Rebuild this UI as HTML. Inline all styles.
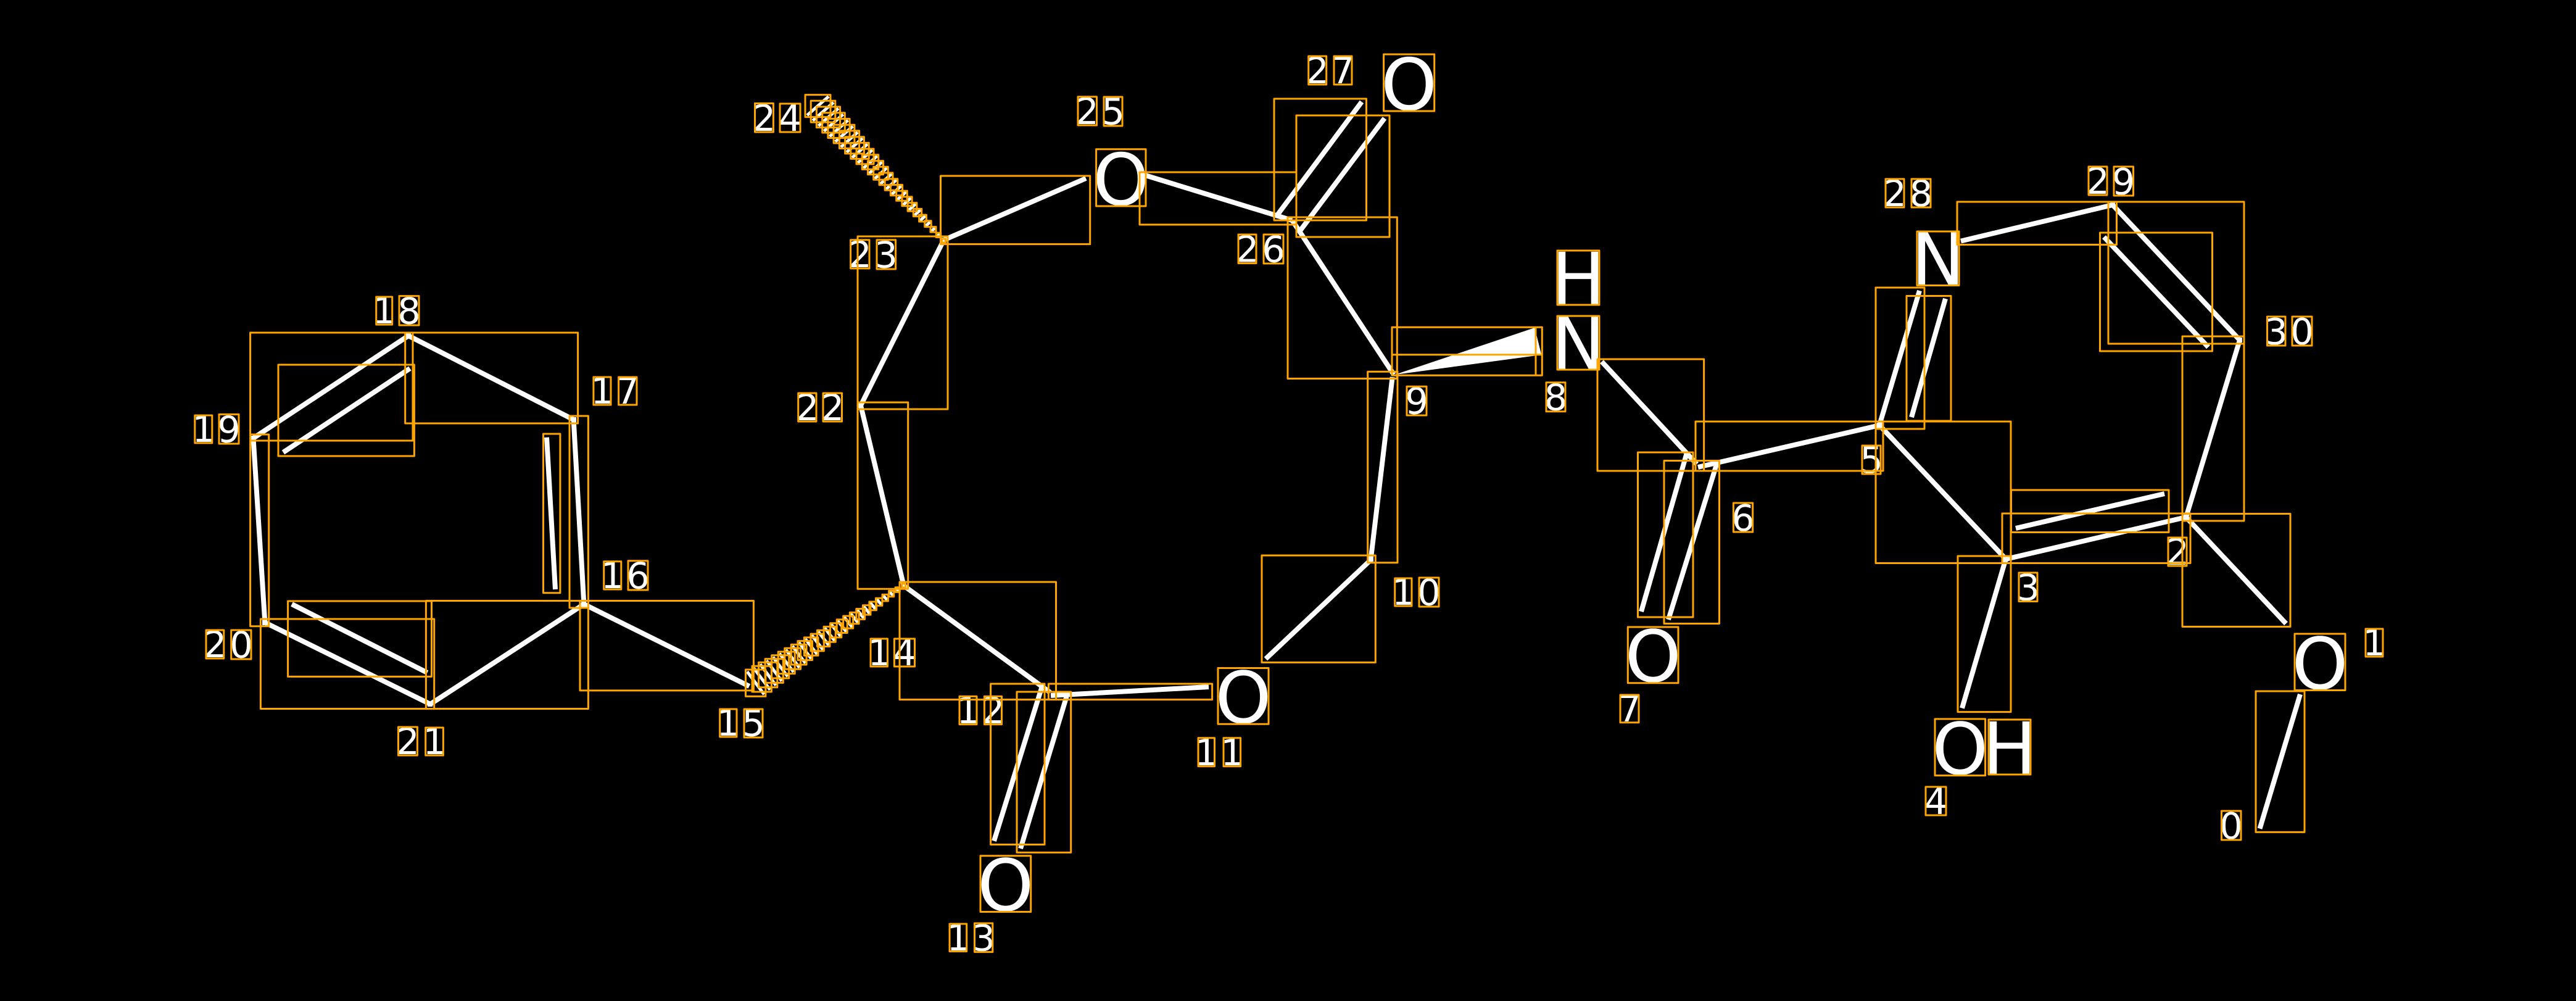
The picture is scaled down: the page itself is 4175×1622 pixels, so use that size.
<!DOCTYPE html>
<html>
<head>
<meta charset="utf-8">
<style>
html,body{margin:0;padding:0;background:#000}
svg{display:block}
text{font-family:"DejaVu Sans","Liberation Sans",sans-serif;fill:#fff;text-anchor:middle}
.a{font-size:116px}
.d{font-size:59px}
.o{stroke:#FFA500;stroke-width:3;fill:none;stroke-linejoin:round}
</style>
</head>
<body>
<svg xmlns="http://www.w3.org/2000/svg" width="4175" height="1622" viewBox="0 0 4175 1622">
<rect x="0" y="0" width="4175" height="1622" fill="#000"/>

<path stroke="#fff" stroke-width="8" fill="none" d="M3728 1125L3662.5 1342.7M3705 1010.5L3543 838M3543 838L3251 906M3267 856L3508 800M3251 905L3180 1147.5M3251 906L3046 689M3046.7 689L2752 757M2733 737L2660 991M2782.6 751L2704 1004M2596 586L2750 752M2256.7 611L2221.7 906M2223 906L2051.4 1067.6M1959 1113L1703 1127M1688 1115L1611 1362.7M1729 1127.4L1654 1375M1464.7 949L1702 1122M1464.7 949L1395 657M1214.4 1112L946.4 979M946.4 979L929.6 680M886 708.7L900 955M929.6 680L662 544M662 544L410.5 710M459 733L664.4 597M410.5 710L429.4 1008.7M429.4 1008.7L697.4 1141M473 979L692.5 1090M697.4 1141L946.4 979M1395 657L1529.5 389M1529.5 389L1760 289M1856 284L2094 357M2207 165L2069 350M2244 191.6L2104 378M2095 358L2259 607M3046 689L3111 471M3098 676L3153 484M3178 390.6L3424 332M3424 332L3630 551M3410 384L3579 562.5M3630 551L3543 838"/>
<polygon points="2260,607.3 2487.3,531 2498.3,575" fill="#fff"/>
<path fill="#fff" d="M3539 834h8v8h-8zM3247 902h8v8h-8zM3042 685h8v8h-8zM2218 902h8v8h-8zM1461 945h8v8h-8zM942 975h8v8h-8zM926 676h8v8h-8zM658 540h8v8h-8zM406 706h8v8h-8zM425 1005h8v8h-8zM693 1137h8v8h-8zM1391 653h8v8h-8zM1525 385h8v8h-8zM3420 328h8v8h-8zM3626 547h8v8h-8z"/>

<path stroke="#fff" stroke-width="5" fill="none" d="M1527 392.5l5 -5M1517.9 384l6.3 -6.1M1508.7 375.5l7.7 -7.3M1499.6 366.9l8.8 -8.3M1490.5 358.3l10 -9.4M1481.3 349.7l11.4 -10.4M1472.2 341.2l12.6 -11.6M1463.1 332.6l13.8 -12.6M1454 324l15 -13.6M1444.8 315.4l16.3 -14.6M1435.7 306.9l17.5 -15.8M1426.6 298.3l18.7 -16.8M1417.5 289.7l20.1 -17.9M1408.4 281.1l21.3 -18.9M1399.3 272.6l22.4 -20M1390.1 264l23.8 -21.1M1381 255.5l25 -22.1M1371.9 246.9l26.2 -23.1M1362.8 238.4l27.4 -24.3M1353.6 229.8l28.7 -25.3M1344.5 221.2l29.9 -26.4M1335.4 212.6l31.1 -27.4M1326.3 204.1l32.5 -28.6M1317.2 195.5l33.7 -29.6M1308.1 186.9l34.9 -30.6M1462.2 946.5l5.1 5.1M1451.6 952.4l6.1 6.5M1441.2 958.2l7 7.8M1430.7 964.2l8 9M1420.3 970.1l8.8 10.4M1409.8 976l9.9 11.7M1399.3 981.9l10.7 13.1M1388.8 987.8l11.7 14.5M1378.4 993.8l12.6 15.6M1367.9 999.6l13.6 17M1357.5 1005.5l14.4 18.4M1347 1011.4l15.5 19.7M1336.5 1017.3l16.3 21.1M1326 1023.3l17.3 22.3M1315.6 1029.2l18.2 23.6M1305.1 1035.1l19.2 25M1294.7 1040.9l20.1 26.4M1284.2 1046.8l21.1 27.7M1273.7 1052.9l22 28.9M1263.2 1058.7l23 30.3M1252.8 1064.6l23.8 31.6M1242.3 1070.5l24.8 33M1231.9 1076.3l25.7 34.3M1221.4 1082.3l26.7 35.5M1210.9 1088.3l27.6 36.9"/>

<text class="a" x="2283.6" y="178">O</text>
<text class="a" x="1816.8" y="332">O</text>
<text class="a" x="2558" y="492.5">H</text>
<text class="a" x="2558" y="597.5">N</text>
<text class="a" x="3141" y="461">N</text>
<text class="a" x="3760" y="1116.5">O</text>
<text class="a" x="3176.8" y="1254.6">O</text>
<text class="a" x="3257" y="1253.5">H</text>
<text class="a" x="2679.2" y="1104.7">O</text>
<text class="a" x="2015" y="1171.3">O</text>
<text class="a" x="1629.8" y="1475.5">O</text>

<text class="d" x="1238.5" y="212">2</text><text class="d" x="1280.5" y="212">4</text>
<text class="d" x="1762" y="201">2</text><text class="d" x="1804" y="201.5">5</text>
<text class="d" x="2135" y="135">2</text><text class="d" x="2176.5" y="135">7</text>
<text class="d" x="2021.5" y="424.6">2</text><text class="d" x="2064" y="424.6">6</text>
<text class="d" x="1394" y="433">2</text><text class="d" x="1436" y="433.5">3</text>
<text class="d" x="1308.5" y="681">2</text><text class="d" x="1349.5" y="681">2</text>
<text class="d" x="622.5" y="524">1</text><text class="d" x="663" y="524.5">8</text>
<text class="d" x="976" y="654">1</text><text class="d" x="1017" y="654">7</text>
<text class="d" x="330" y="716">1</text><text class="d" x="371" y="716.5">9</text>
<text class="d" x="348.5" y="1065">2</text><text class="d" x="391" y="1065.5">0</text>
<text class="d" x="992.5" y="953">1</text><text class="d" x="1034" y="953.5">6</text>
<text class="d" x="661" y="1222">2</text><text class="d" x="704" y="1222">1</text>
<text class="d" x="1180" y="1192">1</text><text class="d" x="1221" y="1192.5">5</text>
<text class="d" x="1425" y="1078">1</text><text class="d" x="1466" y="1078">4</text>
<text class="d" x="1569" y="1172">1</text><text class="d" x="1609.5" y="1172">2</text>
<text class="d" x="1553" y="1540">1</text><text class="d" x="1594" y="1540.5">3</text>
<text class="d" x="1955" y="1240">1</text><text class="d" x="1997" y="1240">1</text>
<text class="d" x="2274.5" y="980">1</text><text class="d" x="2316" y="980.5">0</text>
<text class="d" x="2296" y="670.5">9</text>
<text class="d" x="2521.5" y="664.5">8</text>
<text class="d" x="2641" y="1169">7</text>
<text class="d" x="2825" y="860">6</text>
<text class="d" x="3033" y="766">5</text>
<text class="d" x="3287" y="972.5">3</text>
<text class="d" x="3529" y="915">2</text>
<text class="d" x="3137.5" y="1319">4</text>
<text class="d" x="3616" y="1359">0</text>
<text class="d" x="3848" y="1062">1</text>
<text class="d" x="3071" y="334">2</text><text class="d" x="3113.5" y="334">8</text>
<text class="d" x="3400" y="314">2</text><text class="d" x="3441.5" y="315">9</text>
<text class="d" x="3689" y="558">3</text><text class="d" x="3731" y="558">0</text>

<path class="o" d="M1526.5 387h6v6h-6zM1517.3 377.3h7.4v7.2h-7.4zM1508 367.5h9v8.6h-9zM1498.8 357.8h10.4v9.8h-10.4zM1489.6 348.1h11.8v11h-11.8zM1480.3 338.4h13.4v12.2h-13.4zM1471.1 328.6h14.8v13.6h-14.8zM1461.9 318.9h16.2v14.8h-16.2zM1452.7 309.2h17.6v16h-17.6zM1443.4 299.5h19.2v17.2h-19.2zM1434.2 289.7h20.6v18.6h-20.6zM1425 280h22v19.8h-22zM1415.7 270.3h23.6v21h-23.6zM1406.5 260.6h25v22.2h-25zM1397.3 250.8h26.4v23.6h-26.4zM1388 241.1h28v24.8h-28zM1378.8 231.4h29.4v26h-29.4zM1369.6 221.7h30.8v27.2h-30.8zM1360.4 211.9h32.2v28.6h-32.2zM1351.1 202.2h33.8v29.8h-33.8zM1341.9 192.5h35.2v31h-35.2zM1332.7 182.8h36.6v32.2h-36.6zM1323.4 173h38.2v33.6h-38.2zM1314.2 163.3h39.6v34.8h-39.6zM1305 153.6h41v36h-41z"/>
<path class="o" d="M1461.7 946h6v6h-6zM1451.1 951.8h7.2v7.6h-7.2zM1440.6 957.5h8.2v9.2h-8.2zM1430 963.4h9.4v10.6h-9.4zM1419.5 969.2h10.4v12.2h-10.4zM1408.9 975h11.6v13.8h-11.6zM1398.4 980.7h12.6v15.4h-12.6zM1387.8 986.5h13.8v17h-13.8zM1377.3 992.4h14.8v18.4h-14.8zM1366.7 998.1h16v20h-16zM1356.2 1003.9h17v21.6h-17zM1345.6 1009.7h18.2v23.2h-18.2zM1335.1 1015.4h19.2v24.8h-19.2zM1324.5 1021.3h20.4v26.2h-20.4zM1314 1027.1h21.4v27.8h-21.4zM1303.4 1032.9h22.6v29.4h-22.6zM1292.9 1038.6h23.6v31h-23.6zM1282.3 1044.4h24.8v32.6h-24.8zM1271.8 1050.3h25.8v34h-25.8zM1261.2 1056h27v35.6h-27zM1250.7 1061.8h28v37.2h-28zM1240.1 1067.6h29.2v38.8h-29.2zM1229.6 1073.3h30.2v40.4h-30.2zM1219 1079.2h31.4v41.8h-31.4zM1208.5 1085h32.4v43.4h-32.4z"/>

<path class="o" d="M3172 327H3430.5V396.5H3172ZM3417 327H3637V557H3417ZM3403.5 377H3585.5V569H3403.5ZM3537 545H3637V844H3537ZM3040 466H3119V695H3040ZM3090 479.5H3162V682H3090ZM3040 683H3259V912.5H3040ZM3245 832H3550V912.5H3245ZM3259.5 794H3515V862.5H3259.5ZM3537 832.5H3712V1015.5H3537ZM3173 901H3259V1153.6H3173ZM3656 1120H3735V1348.4H3656ZM2589 582H2761.6V763H2589ZM2654.5 733H2744V1000H2654.5ZM2697 746.5H2786.5V1010.5H2697ZM2748 683H3052V763H2748ZM2256 530.3H2489V608.3H2256ZM2256 574.7H2499.3V608.3H2256ZM2489 530.3H2499.3V574.7H2489ZM2216.7 602.3H2265V911.7H2216.7ZM2045 900H2229.3V1073.4H2045ZM1458 943H1711.5V1133.6H1458ZM1605.6 1108H1693V1368.5H1605.6ZM1648 1121H1735.7V1381.4H1648ZM1699.4 1108H1964.6V1133.6H1699.4ZM1390 652H1471.7V954.3H1390ZM1390 383H1536V663H1390ZM1524.5 285H1766.7V395.6H1524.5ZM1847 279H2101V364H1847ZM2065 160H2214.5V357H2065ZM2101 187H2252V384H2101ZM2087 352H2264.3V613.5H2087ZM405.6 539H669V714H405.6ZM451 591H671.4V739H451ZM656.7 539H936.6V686H656.7ZM923 674H953.4V985H923ZM880.5 703H907.9V960.7H880.5ZM690.4 973.5H953.4V1148.5H690.4ZM422.4 1003H703.7V1148.5H422.4ZM466.6 974H699.5V1096.4H466.6ZM405.6 704H435.7V1014.8H405.6ZM940 973.5H1221.4V1118.9H940Z"/>

<path class="o" d="M2242.6 88H2324.7V180H2242.6ZM1776.6 241.7H1857V334H1776.6ZM2524 406H2592V494H2524ZM2524 512H2592V599H2524ZM3107 375H3175V462.5H3107ZM3719 1027H3801V1118.5H3719ZM3136 1165H3217.6V1256.6H3136ZM3223 1166H3291V1255H3223ZM2638.3 1016H2720V1106.7H2638.3ZM1974 1082.5H2056V1173.3H1974ZM1589 1386.7H1670.7V1477.5H1589Z"/>

<path class="o" d="M1223.5 167.5H1253.4V214H1223.5ZM1264 168H1297V214H1264ZM1747 156.8H1777.5V203H1747ZM1789 157H1819V204H1789ZM2120.7 91H2149.7V137H2120.7ZM2162 91H2191V137H2162ZM2007 380H2036V426.6H2007ZM2048 380H2080V427H2048ZM1378.6 388.7H1409V435H1378.6ZM1421 388.7H1451.6V436H1421ZM1293.7 637H1323V683H1293.7ZM1334 637H1364.5V683H1334ZM609.7 481H635.7V526H609.7ZM647 479.6H679V527H647ZM961.9 611H990V656H961.9ZM1002.6 611H1032V656H1002.6ZM315.8 673H343.8V717.9H315.8ZM355 671.4H387V719H355ZM334 1021H362.8V1067H334ZM374.7 1021H407V1068H374.7ZM978.7 909.7H1006.8V955H978.7ZM1018 908.7H1050V956H1018ZM645.5 1178H676.4V1224H645.5ZM689.7 1179H718.4V1224H689.7ZM1166.7 1149H1194V1194H1166.7ZM1206 1149H1236V1195H1206ZM1411 1035H1438.5V1080H1411ZM1449.4 1035H1482.5V1080H1449.4ZM1555 1128.4H1583V1173.8H1555ZM1595.4 1128.4H1623.5V1173.8H1595.4ZM1539 1497H1566.7V1541.6H1539ZM1579.5 1496H1608.8V1542.6H1579.5ZM1942 1195.8H1968.5V1241.7H1942ZM1983 1195.8H2010.6V1241.7H1983ZM2260.7 937H2288V982H2260.7ZM2300 936H2332V983H2300ZM2280 626.3H2312V673H2280ZM2506 619.7H2537V666.7H2506ZM2626 1126H2656V1170.7H2626ZM2809.4 815H2840.7V862H2809.4ZM3018 722H3048V768H3018ZM3272 928H3302V974.5H3272ZM3514 871H3544V917H3514ZM3121 1275H3154V1321H3121ZM3600.5 1314H3632V1361H3600.5ZM3834 1019H3862V1064H3834ZM3056 290H3086V336H3056ZM3098 290H3129V336H3098ZM3385 270H3415V316H3385ZM3426 270H3457.5V317H3426ZM3674.5 513H3704V560H3674.5ZM3715 513H3747V560H3715Z"/>
</svg>
</body>
</html>
